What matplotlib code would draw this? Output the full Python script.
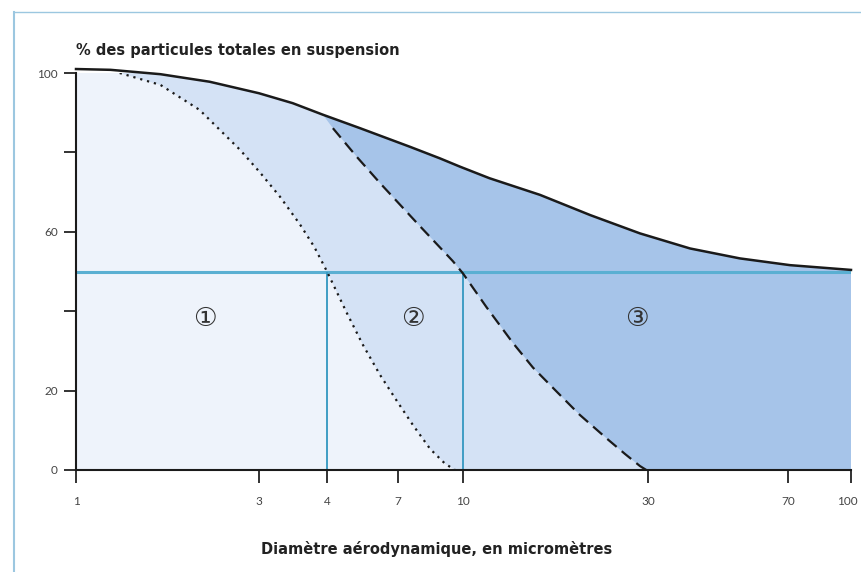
import numpy as np
import matplotlib.pyplot as plt
from matplotlib.lines import Line2D
from matplotlib.transforms import ScaledTranslation

# Curves (diameter in micrometres, % of total suspended particles)
# inhalable fraction (solid)
inh_d = [1.0, 1.23, 1.66, 2.23, 3.0, 3.46, 3.93, 5.19, 7.48, 8.81, 9.84, 11.7, 15.8,
         21.3, 28.6, 38.7, 52.3, 70.8, 100]
inh_y = [101.0, 100.8, 99.7, 97.8, 94.9, 92.4, 89.5, 86.1, 81.4, 78.5, 76.4, 73.5, 69.3,
         64.2, 59.6, 55.8, 53.3, 51.6, 50.4]
# thoracic fraction (dashed)
tho_d = [4.19, 5.07, 6.07, 7.77, 9.46, 10, 11.5, 13.45, 15.15, 17.5, 20.0, 23.5, 26.2,
         28.6, 29.7]
tho_y = [86.1, 78.8, 72.3, 62.2, 52.6, 49.5, 41.0, 32.0, 25.8, 19.6, 13.9, 7.9, 4.0,
         1.0, 0]
# respirable fraction (dotted)
res_d = [1.3, 1.66, 2.1, 2.68, 3.01, 3.28, 3.57, 3.79, 4.0, 4.68, 5.31, 6.07, 6.95, 7.6,
         8.35, 9.06, 9.57]
res_y = [100.0, 97.0, 90.7, 80.6, 75.0, 68.8, 61.8, 56.2, 50.0, 39.5, 31.5, 24.0, 17.3,
         11.3, 5.3, 1.6, 0]

cut_d = [4, 10]  # 50 % cut points
zones = ['\u2460', '\u2461', '\u2462']
zone_d = [2.17, 7.6, 28.1]
zone_y = [38, 38, 38]

xticks = [1, 3, 4, 7, 10, 30, 70, 100]
yticks = [0, 20, 40, 60, 80, 100]
ylabels = ['0', '20', '', '60', '', '100']

# the original axis is roughly logarithmic but its ticks are hand placed;
# where each tick sits along the axis (0 = left, 1 = right)
tick_frac = np.array([0, 183, 251, 322, 387, 572, 712, 775]) / 775.0
log_t = np.log10(xticks)


def fwd(d):
    return np.interp(np.log10(np.clip(d, 1e-3, None)), log_t, tick_frac)


def inv(f):
    return 10 ** np.interp(f, tick_frac, log_t)


plt.rcParams['font.family'] = ['Lato', 'DejaVu Sans']

fig = plt.figure(figsize=(8.61, 5.72), dpi=100)
ax = fig.add_axes([76/861, 1-470/572, 775/861, 397/572])
ax.set_xscale('function', functions=(fwd, inv))

# layered fills: zone 3 under the inhalable curve, zone 2 under thoracic, zone 1 under respirable
n_t = sum(d < tho_d[0] for d in inh_d)
n_r = sum(d < res_d[0] for d in inh_d)
ax.fill(inh_d + [100, 1], inh_y + [0, 0], color='#a6c4e9', lw=0)
ax.fill(inh_d[:n_t] + tho_d + [1], inh_y[:n_t] + tho_y + [0], color='#d4e2f5', lw=0)
ax.fill(inh_d[:n_r] + res_d + [1], inh_y[:n_r] + res_y + [0], color='#eef3fb', lw=0)

# 50 % guide lines
ax.axhline(50, color='#5aafd2', lw=2.2, zorder=2)
ax.vlines(cut_d, 0, 50, color='#3f9dc4', lw=1.4, zorder=2)

ax.plot(inh_d, inh_y, color='#1a1a1a', lw=1.8, clip_on=False, zorder=3)
ax.plot(tho_d, tho_y, color='#1a1a1a', lw=1.6, dashes=(5.5, 3), zorder=3)
ax.plot(res_d, res_y, color='#1a1a1a', lw=1.6, dashes=(1, 2.2), zorder=3)

for s, d, y in zip(zones, zone_d, zone_y):
    ax.text(d, y, s, fontsize=19, ha='center', va='center', color='#333333',
            family=['DejaVu Sans'], zorder=4)

ax.set_xlim(1, 100)
ax.set_ylim(0, 100)
ax.set_xticks(xticks)
ax.set_xticklabels([str(t) for t in xticks])
ax.xaxis.set_minor_locator(plt.NullLocator())
ax.set_yticks(yticks)
ax.set_yticklabels(ylabels)
ax.tick_params(axis='both', length=9, width=1.3, color='#222222', labelsize=8.5,
               labelcolor='#444444')
ax.tick_params(axis='x', pad=10)
ax.tick_params(axis='y', pad=4)
for side in ['top', 'right']:
    ax.spines[side].set_visible(False)
for side in ['left', 'bottom']:
    ax.spines[side].set_linewidth(1.5)
    ax.spines[side].set_color('#1a1a1a')

# keep the last tick label inside the page
last = ax.get_xticklabels()[-1]
last.set_transform(last.get_transform() + ScaledTranslation(-4/100, 0, fig.dpi_scale_trans))

ax.text(0, 1.038, '% des particules totales en suspension', transform=ax.transAxes,
        fontsize=10.5, fontweight='bold', color='#222222', ha='left', va='bottom',
        family=['DejaVu Sans'])
ax.text(0.465, -0.2, 'Diamètre aérodynamique, en micromètres', transform=ax.transAxes,
        fontsize=10.5, fontweight='bold', color='#222222', ha='center', va='center',
        family=['DejaVu Sans'])

# page frame lines
fig.add_artist(Line2D([14/861, 14/861], [0, 1-12/572], color='#9cc7e0', lw=1.5))
fig.add_artist(Line2D([14/861, 1], [1-12/572, 1-12/572], color='#9cc7e0', lw=1.0))

fig.savefig('out.png', dpi=100)
